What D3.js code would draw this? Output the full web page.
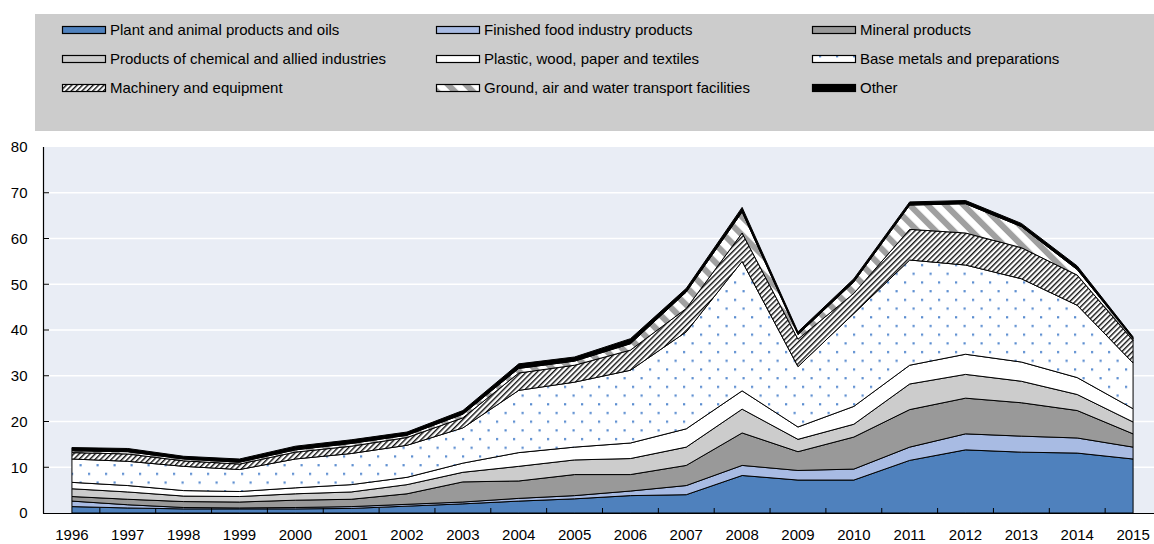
<!DOCTYPE html>
<html><head><meta charset="utf-8">
<script src="https://cdn.jsdelivr.net/npm/d3@7"></script>
<style>
body{margin:0;background:#fff}
svg{display:block}
text{font-family:"Liberation Sans",Arial,sans-serif;fill:#000}
</style>
</head><body>
<svg id="c" width="1154" height="544"></svg>
<script>
// ---- data ----
const years = [1996,1997,1998,1999,2000,2001,2002,2003,2004,2005,2006,2007,2008,2009,2010,2011,2012,2013,2014,2015];
const seriesNames = [
  "Plant and animal products and oils",
  "Finished food industry products",
  "Mineral products",
  "Products of chemical and allied industries",
  "Plastic, wood, paper and textiles",
  "Base metals and preparations",
  "Machinery and equipment",
  "Ground, air and water transport facilities",
  "Other"
];
const plant     = [1.4,1.1,0.9,0.9,0.9,1.0,1.5,2.0,2.6,3.1,3.8,4.0,8.2,7.2,7.2,11.5,13.8,13.3,13.1,11.8];
const food      = [1.2,0.7,0.3,0.2,0.3,0.4,0.4,0.4,0.6,0.7,1.0,2.0,2.2,2.1,2.4,2.9,3.5,3.5,3.3,2.6];
const mineral   = [1.0,1.2,1.3,1.3,1.6,1.6,2.3,4.4,3.8,4.6,3.6,4.4,7.1,4.1,7.0,8.2,7.8,7.3,6.0,2.9];
const chemical  = [1.7,1.6,1.2,1.2,1.4,1.6,2.0,2.1,3.2,3.2,3.5,4.0,5.2,2.7,2.8,5.6,5.2,4.7,3.5,2.6];
const plastic   = [1.4,1.4,1.2,1.1,1.3,1.6,1.6,2.0,3.0,2.8,3.4,4.0,4.0,2.7,3.9,4.1,4.4,4.2,3.7,2.9];
const baseMetal = [5.1,5.3,5.3,4.8,6.3,6.8,7.0,7.7,13.6,14.2,15.9,21.2,28.3,13.2,20.3,23.0,19.5,18.2,15.8,10.0];
const machinery = [1.4,1.6,1.2,1.2,1.5,1.6,1.7,2.2,3.8,3.7,4.4,5.1,6.2,6.0,4.4,6.7,7.0,6.8,6.6,4.9];
const transport = [0.4,0.5,0.4,0.4,0.5,0.6,0.5,0.8,1.0,0.9,1.4,3.6,4.6,1.0,2.5,5.3,6.4,4.6,1.2,0.4];
const other     = [0.7,0.7,0.6,0.7,0.8,0.8,0.7,0.8,1.0,0.9,1.1,0.8,1.0,0.6,0.7,0.7,0.7,0.7,0.8,0.4];
const yTicks = [0,10,20,30,40,50,60,70,80];

const seriesValues = [plant,food,mineral,chemical,plastic,baseMetal,machinery,transport,other];
const keys = ["plant","food","mineral","chemical","plastic","baseMetal","machinery","transport","other"];
const rows = years.map((yr,i)=>{const r={year:yr}; keys.forEach((k,j)=>r[k]=seriesValues[j][i]); return r;});

// ---- layout ----
const svg = d3.select("#c");
const L = 44, R = 1161, T = 147, B = 513;

const defs = svg.append("defs");
const dots = defs.append("pattern").attr("id","dots").attr("patternUnits","userSpaceOnUse")
  .attr("width",17).attr("height",17.4);
dots.append("rect").attr("width",17).attr("height",17.4).attr("fill","#fff");
dots.append("rect").attr("x",3).attr("y",3).attr("width",2.2).attr("height",2.2).attr("fill","#5b8dd0");
dots.append("rect").attr("x",11.5).attr("y",11.7).attr("width",2.2).attr("height",2.2).attr("fill","#5b8dd0");

const hatch = defs.append("pattern").attr("id","hatch").attr("patternUnits","userSpaceOnUse")
  .attr("width",3.8).attr("height",10).attr("patternTransform","rotate(45)");
hatch.append("rect").attr("width",3.8).attr("height",10).attr("fill","#fff");
hatch.append("rect").attr("width",1.4).attr("height",10).attr("fill","#111");

const stripes = defs.append("pattern").attr("id","stripes").attr("patternUnits","userSpaceOnUse")
  .attr("width",12.7).attr("height",10).attr("patternTransform","rotate(-45)");
stripes.append("rect").attr("width",12.7).attr("height",10).attr("fill","#fff");
stripes.append("rect").attr("width",6).attr("height",10).attr("fill","#a0a0a0");

const fills = ["#4f81bd","#a8bbe3","#999999","#cccccc","#ffffff","url(#dots)","url(#hatch)","url(#stripes)","#000000"];

// legend
svg.append("rect").attr("x",35).attr("y",14).attr("width",1154-35).attr("height",117).attr("fill","#cccccc");
const colX = [62,436,812];
const rowY = [30,59,88];
seriesNames.forEach((name,i)=>{
  const cx = colX[i%3], cy = rowY[Math.floor(i/3)];
  svg.append("rect").attr("x",cx+0.5).attr("y",cy-3.5).attr("width",43).attr("height",7)
    .attr("fill",fills[i]).attr("stroke","#000").attr("stroke-width",1.2);
  svg.append("text").attr("x",cx+48).attr("y",cy).attr("dy","0.35em")
    .style("font-size","15px").text(name);
});

// scales
const xb = d3.scaleBand().domain(years).range([L,R]).paddingInner(0).paddingOuter(0);
const xc = d => xb(d) + xb.bandwidth()/2;
const y = d3.scaleLinear().domain([0,80]).range([B,T]);

// plot background
svg.append("rect").attr("x",L).attr("y",T).attr("width",1154-L).attr("height",B-T).attr("fill","#e9edf5");

// gridlines
svg.append("g").selectAll("line").data(yTicks.filter(v=>v>0 && v<80)).join("line")
  .attr("x1",L).attr("x2",1154).attr("y1",d=>y(d)).attr("y2",d=>y(d))
  .attr("stroke","#fff").attr("stroke-width",1.5);

// stacked areas
const stack = d3.stack().keys(keys)(rows);
const area = d3.area().x(d=>xc(d.data.year)).y0(d=>y(d[0])).y1(d=>y(d[1]));
svg.append("g").selectAll("path").data(stack).join("path")
  .attr("d",area).attr("fill",(d,i)=>fills[i])
  .attr("stroke","#000").attr("stroke-width",1).attr("stroke-linejoin","round");

// axes
const yAxis = d3.axisLeft(y).tickValues(yTicks).tickSize(0).tickPadding(16);
const gy = svg.append("g").attr("transform",`translate(${L-0.5},0)`).call(yAxis);
gy.select(".domain").remove();
gy.selectAll("text").style("font-size","15px").style("font-family","'Liberation Sans',Arial,sans-serif").attr("fill","#000");
svg.append("g").selectAll("line").data(yTicks.filter(v=>v>0 && v<80)).join("line")
  .attr("x1",L).attr("x2",L+5).attr("y1",d=>y(d)).attr("y2",d=>y(d)).attr("stroke","#000");
svg.append("line").attr("x1",L-0.5).attr("x2",L-0.5).attr("y1",T).attr("y2",B+0.5).attr("stroke","#000").attr("stroke-width",1.2);

const xAxis = d3.axisBottom(xb).tickSize(0).tickPadding(16);
const gx = svg.append("g").attr("transform",`translate(0,${B})`).call(xAxis);
gx.select(".domain").remove();
gx.selectAll("text").style("font-size","15px").style("font-family","'Liberation Sans',Arial,sans-serif").attr("fill","#000");
svg.append("g").selectAll("line").data(years.slice(1)).join("line")
  .attr("x1",d=>xb(d)).attr("x2",d=>xb(d)).attr("y1",B).attr("y2",B-5).attr("stroke","#000");
svg.append("line").attr("x1",L-1).attr("x2",1154).attr("y1",B+0.5).attr("y2",B+0.5).attr("stroke","#000").attr("stroke-width",1.2);
</script>
</body></html>
